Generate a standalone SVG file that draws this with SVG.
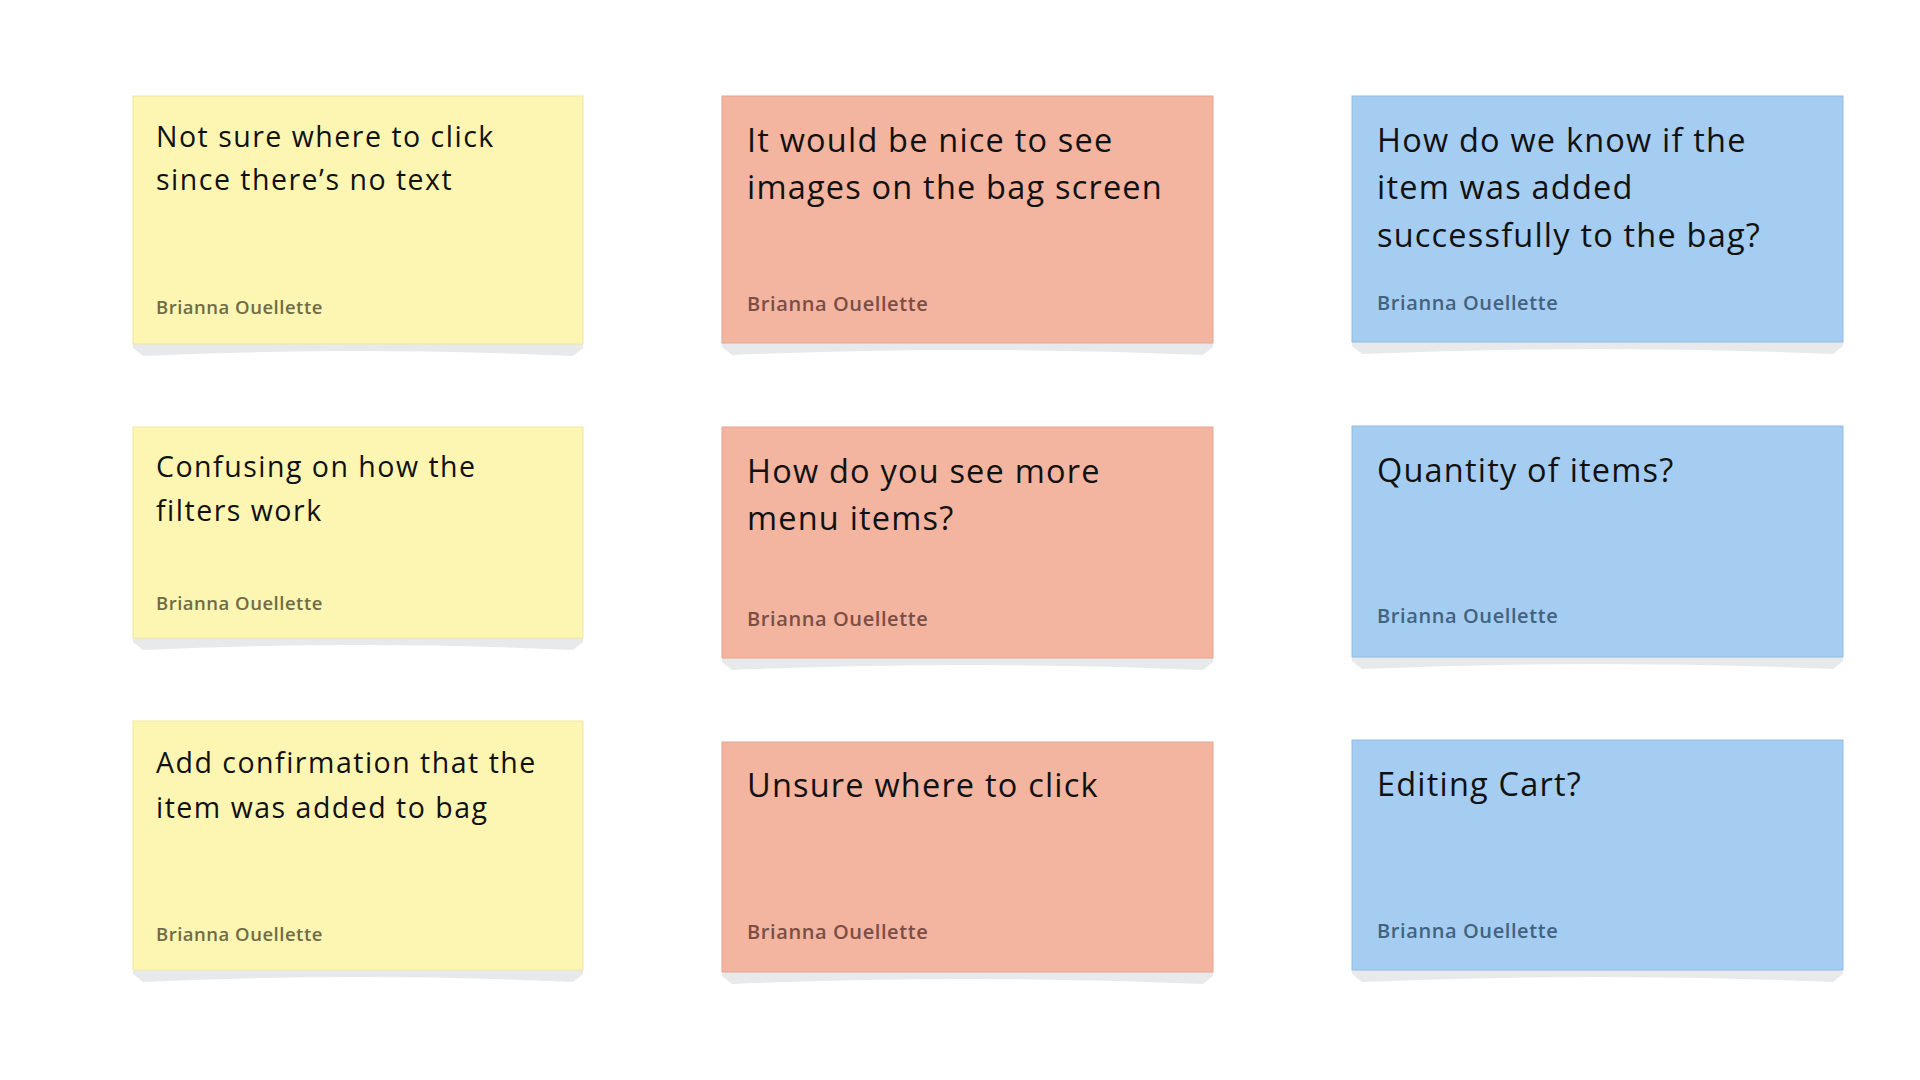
<svg xmlns="http://www.w3.org/2000/svg" width="1920" height="1080" viewBox="0 0 1920 1080">
<style>
.bg{fill:#ffffff}
.sh{fill:#e7e9eb}
.y{fill:#fdf6b3;stroke:#efe7a4;stroke-width:1}
.r{fill:#f3b4a0;stroke:#e4a693;stroke-width:1}
.b{fill:#a5cdf1;stroke:#93bbdf;stroke-width:1}
.t{font-family:"Open Sans","Liberation Sans",sans-serif;fill:#111111}
.ts{font-size:28.5px;letter-spacing:1.5px}
.tl{font-size:32.5px;letter-spacing:1.2px}
.a{font-family:"Open Sans","Liberation Sans",sans-serif;font-weight:600}
.ay{fill:#6f6c45;font-size:18.5px;letter-spacing:0.5px}
.ar{fill:#7a4e44;font-size:20px;letter-spacing:0.6px}
.ab{fill:#42627f;font-size:20px;letter-spacing:0.6px}
</style>
<rect class="bg" x="0" y="0" width="1920" height="1080"/>

<g id="note-y1">
<path class="sh" d="M133 344 L583 344 L583 348 L573 356 Q358 346 143 356 L133 348 Z"/>
<rect class="y" x="133" y="96" width="450" height="248"/>
<text class="t ts" x="156" y="147">Not sure where to click</text>
<text class="t ts" x="156" y="190">since there’s no text</text>
<text class="a ay" x="156" y="314">Brianna Ouellette</text>
</g>

<g id="note-r1">
<path class="sh" d="M722 343 L1213 343 L1213 347 L1203 355 Q967 345 732 355 L722 347 Z"/>
<rect class="r" x="722" y="96" width="491" height="247"/>
<text class="t tl" x="747" y="152">It would be nice to see</text>
<text class="t tl" x="747" y="199">images on the bag screen</text>
<text class="a ar" x="747" y="311">Brianna Ouellette</text>
</g>

<g id="note-b1">
<path class="sh" d="M1352 342 L1843 342 L1843 346 L1833 354 Q1597 344 1362 354 L1352 346 Z"/>
<rect class="b" x="1352" y="96" width="491" height="246"/>
<text class="t tl" x="1377" y="152">How do we know if the</text>
<text class="t tl" x="1377" y="199">item was added</text>
<text class="t tl" x="1377" y="247">successfully to the bag?</text>
<text class="a ab" x="1377" y="310">Brianna Ouellette</text>
</g>

<g id="note-y2">
<path class="sh" d="M133 638 L583 638 L583 642 L573 650 Q358 640 143 650 L133 642 Z"/>
<rect class="y" x="133" y="427" width="450" height="211"/>
<text class="t ts" x="156" y="477">Confusing on how the</text>
<text class="t ts" x="156" y="521">filters work</text>
<text class="a ay" x="156" y="610">Brianna Ouellette</text>
</g>

<g id="note-r2">
<path class="sh" d="M722 658 L1213 658 L1213 662 L1203 670 Q967 660 732 670 L722 662 Z"/>
<rect class="r" x="722" y="427" width="491" height="231"/>
<text class="t tl" x="747" y="483">How do you see more</text>
<text class="t tl" x="747" y="530">menu items?</text>
<text class="a ar" x="747" y="626">Brianna Ouellette</text>
</g>

<g id="note-b2">
<path class="sh" d="M1352 657 L1843 657 L1843 661 L1833 669 Q1597 659 1362 669 L1352 661 Z"/>
<rect class="b" x="1352" y="426" width="491" height="231"/>
<text class="t tl" x="1377" y="482">Quantity of items?</text>
<text class="a ab" x="1377" y="623">Brianna Ouellette</text>
</g>

<g id="note-y3">
<path class="sh" d="M133 970 L583 970 L583 974 L573 982 Q358 972 143 982 L133 974 Z"/>
<rect class="y" x="133" y="721" width="450" height="249"/>
<text class="t ts" x="156" y="773">Add confirmation that the</text>
<text class="t ts" x="156" y="818">item was added to bag</text>
<text class="a ay" x="156" y="941">Brianna Ouellette</text>
</g>

<g id="note-r3">
<path class="sh" d="M722 972 L1213 972 L1213 976 L1203 984 Q967 974 732 984 L722 976 Z"/>
<rect class="r" x="722" y="742" width="491" height="230"/>
<text class="t tl" x="747" y="797">Unsure where to click</text>
<text class="a ar" x="747" y="939">Brianna Ouellette</text>
</g>

<g id="note-b3">
<path class="sh" d="M1352 970 L1843 970 L1843 974 L1833 982 Q1597 972 1362 982 L1352 974 Z"/>
<rect class="b" x="1352" y="740" width="491" height="230"/>
<text class="t tl" x="1377" y="796">Editing Cart?</text>
<text class="a ab" x="1377" y="938">Brianna Ouellette</text>
</g>

<g id="connectors"/>
</svg>
